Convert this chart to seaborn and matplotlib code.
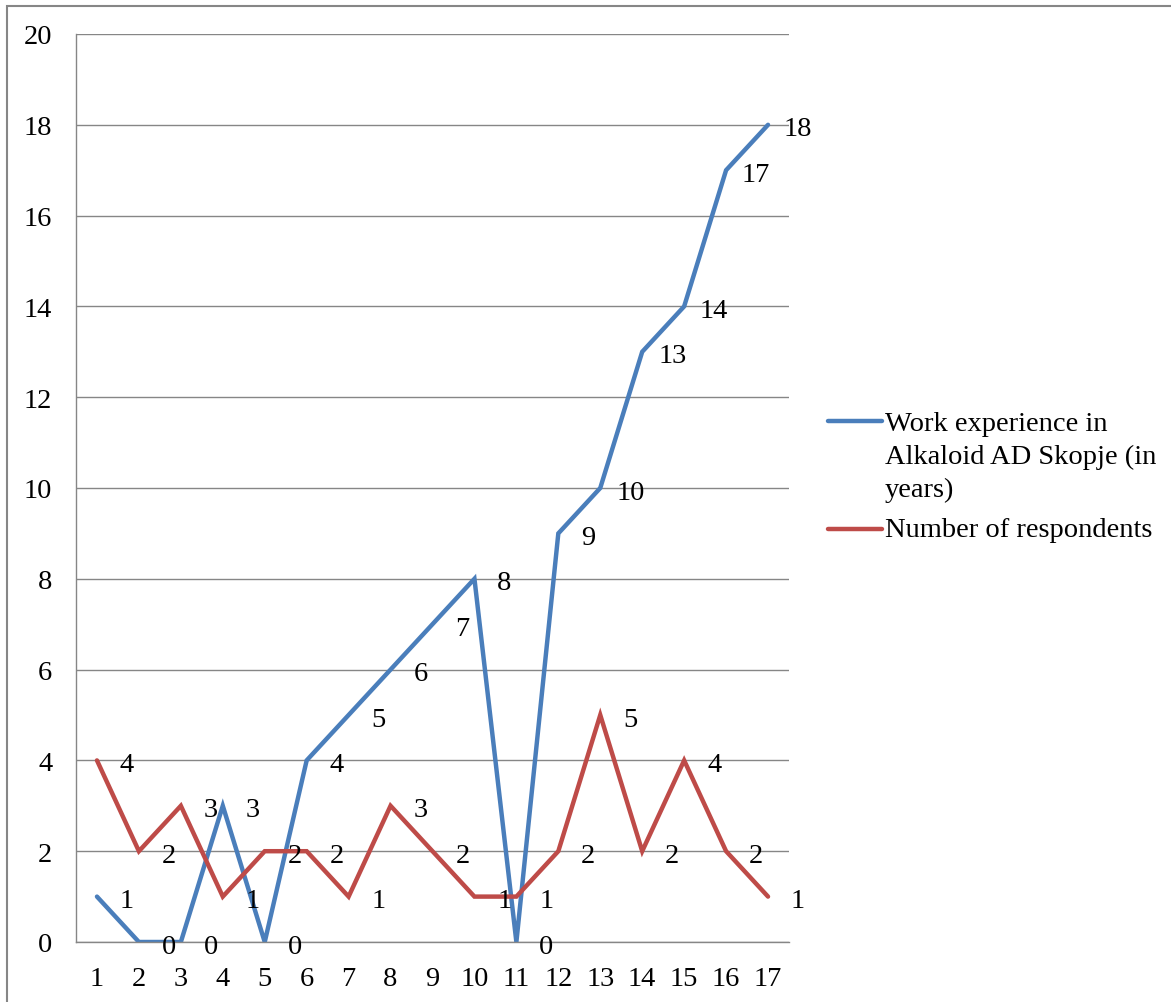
import numpy as np
import pandas as pd
import matplotlib
matplotlib.use('Agg')
import matplotlib.pyplot as plt
from matplotlib.lines import Line2D
from matplotlib.patches import Rectangle
import seaborn as sns

# data
categories = list(range(1, 18))
work_experience = [1, 0, 0, 3, 0, 4, 5, 6, 7, 8, 0, 9, 10, 13, 14, 17, 18]
respondents = [4, 2, 3, 1, 2, 2, 1, 3, 2, 1, 1, 2, 5, 2, 4, 2, 1]
series_names = ['Work experience in\nAlkaloid AD Skopje (in\nyears)', 'Number of respondents']
series_colors = ['#4A7EBB', '#BE4B48']
y_ticks = list(range(0, 21, 2))

sns.set_style('white')
plt.rcParams['font.family'] = ['Liberation Serif', 'DejaVu Serif']
plt.rcParams['font.size'] = 20.5
plt.rcParams['text.color'] = 'black'
plt.rcParams['xtick.color'] = 'black'
plt.rcParams['ytick.color'] = 'black'

W, H = 1171, 1003
fig = plt.figure(figsize=(W / 100, H / 100), dpi=100)
ax = fig.add_axes([76 / W, 1 - 943 / H, (789 - 76) / W, (943 - 35) / H])

df = pd.DataFrame({'cat': categories, 'work': work_experience, 'resp': respondents})
grid_col = '#868686'

for col, ycol in zip(series_colors, ['work', 'resp']):
    sns.lineplot(data=df, x='cat', y=ycol, color=col, lw=3.2, ax=ax,
                 solid_capstyle='round', solid_joinstyle='miter')
    for x, y in zip(df['cat'], df[ycol]):
        ax.annotate(str(y), (x, y), xytext=(21.6, -3), textcoords='offset points',
                    ha='center', va='center', fontsize=20.5, color='black',
                    annotation_clip=False)

ax.set_xlim(0.5, 17.5)
ax.set_ylim(0, 20)
ax.set_xlabel('')
ax.set_ylabel('')
ax.set_yticks(y_ticks)
ax.set_xticks(categories)
ax.set_xticklabels([str(c) for c in categories])
ax.set_xticks(np.arange(0.5, 18, 1), minor=True)
ax.tick_params(axis='x', which='major', length=0, pad=17, labelsize=20.5, labelcolor='black')
ax.tick_params(axis='x', which='minor', length=6, width=1, color=grid_col, direction='out')
ax.tick_params(axis='y', length=6, width=1, color=grid_col, direction='out', pad=11,
               labelsize=20.5, labelcolor='black')
ax.grid(axis='y', color=grid_col, lw=1)
ax.grid(axis='x', visible=False)
ax.set_axisbelow(True)
for s in ['top', 'right']:
    ax.spines[s].set_visible(False)
for s in ['left', 'bottom']:
    ax.spines[s].set_color(grid_col)
    ax.spines[s].set_linewidth(1)

# legend drawn at the reference position (baseline anchors the last text line)
leg_items = [(series_names[0], series_colors[0], 422, 497),
             (series_names[1], series_colors[1], 530, 537)]
for name, col, ly, base in leg_items:
    fig.add_artist(Line2D([828 / W, 882 / W], [1 - ly / H, 1 - ly / H], color=col, lw=3.2,
                          solid_capstyle='round', transform=fig.transFigure))
    fig.text(885 / W, 1 - base / H, name, ha='left', va='baseline', fontsize=20.5,
             linespacing=1.40, color='black')

# outer chart border
fig.add_artist(Rectangle((7 / W, -0.1), 1.2, 1 - 7 / H + 0.1, transform=fig.transFigure,
                         fill=False, edgecolor=grid_col, lw=1.5, clip_on=False))

fig.savefig('out.png', dpi=100)
